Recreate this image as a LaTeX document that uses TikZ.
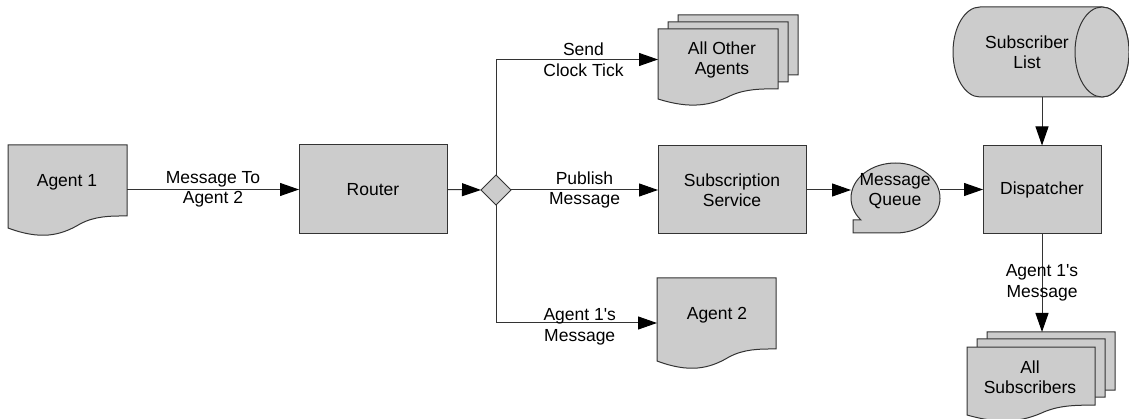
\documentclass[tikz,border=0pt]{standalone}
\usepackage{fontspec}
\setmainfont{Liberation Sans}
\usetikzlibrary{arrows.meta,shapes.geometric}
\definecolor{shfill}{HTML}{CCCCCC}
\definecolor{ln}{HTML}{333333}
\newcommand\docshape[4]{%
 \path[shp] (#1,#2) -- ({#1+#3},#2) -- ({#1+#3},{#2+0.855*#4})
  .. controls ({#1+0.857*#3},{#2+0.855*#4}) and ({#1+0.731*#3},{#2+0.855*#4}) .. ({#1+0.605*#3},{#2+0.952*#4})
  .. controls ({#1+0.437*#3},{#2+1.096*#4}) and ({#1+0.27*#3},{#2+1.145*#4}) .. (#1,{#2+#4}) -- cycle;}
\begin{document}
\begin{tikzpicture}[x=1pt,y=-1pt,
  every node/.style={font=\fontsize{17.5}{20.5}\selectfont, text=black},
  shp/.style={fill=shfill, draw=ln, line width=1pt},
  area/.style={inner sep=0pt, outer sep=0pt},
  boxnode/.style={shp, inner sep=0pt, outer sep=0pt, align=center},
  elbl/.style={align=center, inner sep=0pt},
  conn/.style={draw=ln, line width=1pt, -{Triangle[length=19pt,width=13pt,color=black,fill=black]}}]
\useasboundingbox (0,0) rectangle (1129,419);

% Agent 1
\docshape{8}{145}{119}{83}
\node[area, minimum width=119pt, minimum height=89pt] (a1) at (67.5,189.5) {};
\node[align=center] (a1t) at (67,182) {Agent 1};

% Router
\node[boxnode, minimum width=148pt, minimum height=89pt] (r) at (373,189.5) {Router};

% Decision
\node[shp, diamond, minimum width=30pt, minimum height=30pt, inner sep=0pt, outer sep=0pt] (dm) at (496,190) {};

% All Other Agents
\docshape{678}{15}{120}{70}
\docshape{668}{22}{120}{70}
\docshape{658}{29}{120}{70}
\node[area, minimum width=140pt, minimum height=88pt] (ao) at (728,59.5) {};
\node[align=center] (aot) at (722,60) {All Other\\Agents};

% Subscription Service
\node[boxnode, minimum width=148pt, minimum height=88pt] (ss) at (732,190) {Subscription\\Service};

% Agent 2
\docshape{657}{278}{119}{83}
\node[area, minimum width=119pt, minimum height=90pt] (a2) at (716.5,323) {};
\node[align=center] (a2t) at (717,315) {Agent 2};

% Message Queue
\path[shp] ({895.5+44.5*cos(141.1)},{198+35*sin(141.1)}) arc[start angle=141.1, end angle=450, x radius=44.5, y radius=35] -- (853,233) -- (853,220) -- cycle;
\node[area, minimum width=89pt, minimum height=70pt] (mq) at (895.5,198) {};
\node[align=center] (mqt) at (895,191) {Message\\Queue};

% Subscriber List
\path[shp] (980,7) -- (1102,7) arc[start angle=270, end angle=450, x radius=27, y radius=45] -- (980,97) arc[start angle=90, end angle=270, x radius=27, y radius=45] -- cycle;
\path[shp] (1102,52) ellipse[x radius=27, y radius=45];
\node[area, minimum width=176pt, minimum height=90pt] (sl) at (1041,52) {};
\node[align=center] (slt) at (1027,52) {Subscriber\\List};

% Dispatcher
\node[boxnode, minimum width=118pt, minimum height=88pt] (d) at (1042,189.5) {Dispatcher};

% All Subscribers
\docshape{987}{332}{128}{68}
\docshape{977}{339}{128}{68}
\docshape{967}{347}{128}{68}
\node[area, minimum width=148pt, minimum height=86pt] (as) at (1041,375) {};
\node[align=center] (ast) at (1030,377) {All\\Subscribers};

% Connectors
\draw[conn] (a1.east |- r.west) -- node[elbl]{Message To\\Agent 2} (r.west);
\draw[conn] (r.east) -- (dm.west);
\draw[conn] (dm.east) -- node[elbl]{Publish\\Message} (ss.west);
\draw[conn] (dm.north) |- node[elbl, pos=0.77]{Send\\Clock Tick} (ao.west);
\draw[conn] (dm.south) |- node[elbl, pos=0.76, yshift=-4pt]{Agent 1\textquotesingle s\\Message} (a2.west);
\draw[conn] (ss.east) -- (mq.west |- ss.east);
\draw[conn] (mq.east |- d.west) -- (d.west);
\draw[conn] (d.north |- sl.south) -- (d.north);
\draw[conn] (d.south) -- node[elbl]{Agent 1\textquotesingle s\\Message} (d.south |- as.north);
\end{tikzpicture}
\end{document}
